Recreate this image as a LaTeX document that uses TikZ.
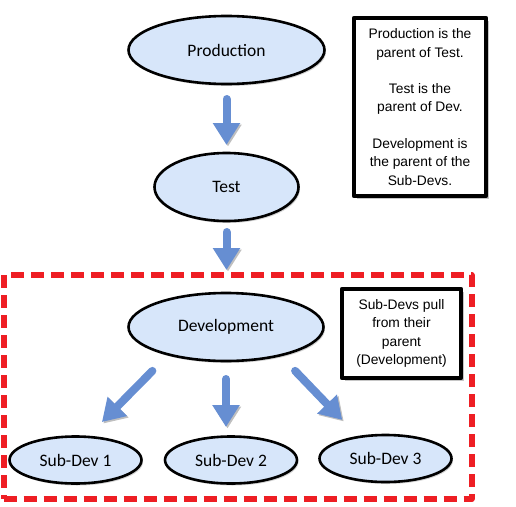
\documentclass[tikz,border=0pt]{standalone}
\usepackage{fontspec}
\setmainfont{Liberation Sans}
\newfontfamily\carlito{Carlito}
\usetikzlibrary{shapes.geometric,shadows,arrows.meta}
\definecolor{envfill}{RGB}{215,230,250}
\definecolor{arrowblue}{RGB}{102,142,210}
\definecolor{framered}{RGB}{238,30,36}

\begin{document}
\begin{tikzpicture}[x=1pt, y=-1pt, line join=round,
env node/.style={ellipse,draw,line width=2.6pt,fill=envfill,inner sep=0pt,font=\carlito\fontsize{17.5}{20}\selectfont,drop shadow={shadow xshift=1.5pt,shadow yshift=-2pt,opacity=.35}},
note box/.style={rectangle,draw,line width=4.5pt,fill=white,align=center,inner sep=0pt,font=\fontsize{13.8}{18.3}\selectfont,drop shadow={shadow xshift=3pt,shadow yshift=-3pt,opacity=.45}},
big arrow/.style={arrowblue,line width=8pt,line cap=round,-{Triangle[width=26pt,length=22pt]},preaction={draw=black!25,transform canvas={shift={(1.5pt,-1.5pt)}}}},
sub frame/.style={draw=framered,line width=6pt,dash pattern=on 13pt off 7pt}]
\useasboundingbox (0,0) rectangle (516,506);
%\node (v0) frame round the sub-devs
\node [sub frame,minimum width=468,minimum height=224](frame) at (237.5,387) {};
\begin{scope}
\node [env node,minimum width=196,minimum height=68](prod) at (226.5,50) {Production};
\node [env node,minimum width=144,minimum height=68](test) at (226.5,187) {Test};
\node [env node,minimum width=195,minimum height=68](dev) at (226,327) {Development};
\node [env node,minimum width=132,minimum height=47](sub1) at (75.5,460) {Sub-Dev 1};
\node [env node,minimum width=132,minimum height=47](sub2) at (231,460) {Sub-Dev 2};
\node [env node,minimum width=132,minimum height=47](sub3) at (385.5,458.5) {Sub-Dev 3};
\end{scope}
\node [note box,minimum width=132,minimum height=178](note1) at (420,107) {Production is the\\parent of Test.\\[18.3pt]Test is the\\parent of Dev.\\[18.3pt]Development is\\the parent of the\\Sub-Devs.};
\node [note box,minimum width=119,minimum height=89](note2) at (401.5,333.5) {Sub-Devs pull\\from their\\parent\\(Development)};
\path
	(prod) edge [big arrow,shorten <=13.7pt,shorten >=6.7pt] (test)
	(test) edge [big arrow,shorten <=9.7pt,shorten >=2pt] (test |- frame.north)
	(dev.206) edge [big arrow,shorten <=21.7pt,shorten >=19.2pt] (sub1.62)
	(dev.south) edge [big arrow,shorten <=16.7pt,shorten >=8.2pt] (dev.south |- sub2.north)
	(dev.332) edge [big arrow,shorten <=20.2pt,shorten >=22.2pt] (sub3.141)
	;
\end{tikzpicture}
\end{document}
